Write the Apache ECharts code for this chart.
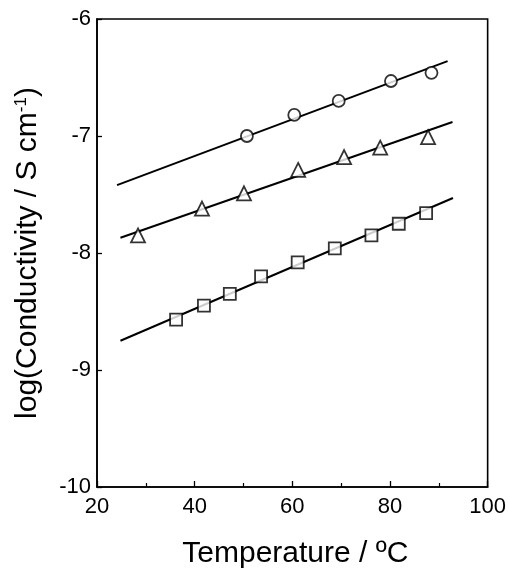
<!DOCTYPE html>
<html><head><meta charset="utf-8">
<script src="https://cdn.jsdelivr.net/npm/echarts@6/dist/echarts.min.js"></script>
<style>html,body{margin:0;padding:0;background:#fff}#c{width:509px;height:574px}</style>
</head><body><div id="c"></div>
<script>
// Data
var circleT = [50.7, 60.4, 69.5, 80.2, 88.5];
var circleLog = [-7.00, -6.82, -6.70, -6.53, -6.46];
var triangleT = [28.4, 41.5, 50.1, 61.2, 70.6, 78.0, 87.8];
var triangleLog = [-7.85, -7.62, -7.49, -7.29, -7.18, -7.10, -7.01];
var squareT = [36.2, 41.9, 47.2, 53.6, 61.1, 68.7, 76.2, 81.8, 87.4];
var squareLog = [-8.57, -8.45, -8.35, -8.20, -8.08, -7.96, -7.85, -7.75, -7.66];
// fitted lines (end points)
var circleFitT = [24.1, 91.8];
var circleFitLog = [-7.42, -6.36];
var triangleFitT = [24.8, 92.8];
var triangleFitLog = [-7.87, -6.88];
var squareFitT = [24.8, 92.9];
var squareFitLog = [-8.75, -7.53];
var xTicks = [20, 40, 60, 80, 100];
var yTicks = [-10, -9, -8, -7, -6];

function pairs(a, b) { return a.map(function (v, i) { return [v, b[i]]; }); }
var font = '"Liberation Sans", Arial, sans-serif';
var markStyle = { color: '#fff', borderColor: '#000', borderWidth: 1.8 };
function scatter(x, y, sym, size) {
  return { type: 'scatter', data: pairs(x, y), symbol: sym, symbolSize: size, itemStyle: markStyle, z: 5 };
}
function fit(x, y) {
  return { type: 'line', data: pairs(x, y), symbol: 'none', lineStyle: { color: '#000', width: 2 }, z: 3 };
}
var chart = echarts.init(document.getElementById('c'));
chart.setOption({
  animation: false,
  grid: { left: 97, right: 21, top: 19, bottom: 86, show: true, borderColor: '#000', borderWidth: 1.6 },
  xAxis: {
    type: 'value', min: 20, max: 100, interval: 20,
    name: 'Temperature / ºC', nameLocation: 'middle', nameGap: 52,
    nameTextStyle: { fontFamily: font, fontSize: 30, color: '#000', padding: [0, 0, 0, 6] },
    axisLine: { lineStyle: { color: '#000', width: 1.6 } },
    axisTick: { inside: true, length: 6, lineStyle: { color: '#000', width: 1.3 } },
    minorTick: { show: true, splitNumber: 2, length: 4, lineStyle: { color: '#000', width: 1.2 } },
    axisLabel: { fontFamily: font, fontSize: 22, color: '#000', margin: 9,
      formatter: function (v) { return xTicks.indexOf(v) >= 0 ? String(v) : ''; } },
    splitLine: { show: false }
  },
  yAxis: {
    type: 'value', min: -10, max: -6, interval: 1,
    name: 'log(Conductivity / S cm{sup|-1})', nameLocation: 'middle', nameGap: 54, nameRotate: 90,
    nameTextStyle: { fontFamily: font, fontSize: 30, color: '#000',
      rich: { sup: { fontFamily: font, fontSize: 17, color: '#000', verticalAlign: 'top', padding: [0, 0, 12, 0] } } },
    axisLine: { lineStyle: { color: '#000', width: 1.6 } },
    axisTick: { inside: true, length: 5, lineStyle: { color: '#000', width: 1.3 } },
    axisLabel: { fontFamily: font, fontSize: 22, color: '#000', margin: 6,
      formatter: function (v) { return yTicks.indexOf(v) >= 0 ? String(v) : ''; } },
    splitLine: { show: false }
  },
  series: [
    fit(circleFitT, circleFitLog),
    fit(triangleFitT, triangleFitLog),
    fit(squareFitT, squareFitLog),
    scatter(circleT, circleLog, 'circle', 12),
    scatter(triangleT, triangleLog, 'triangle', 14),
    scatter(squareT, squareLog, 'rect', 12)
  ]
});
</script></body></html>
